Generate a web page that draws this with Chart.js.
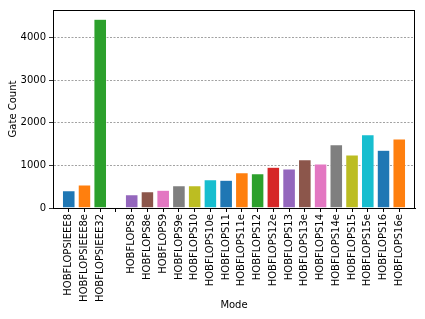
<!DOCTYPE html>
<html>
<head>
<meta charset="utf-8">
<script src="https://cdn.jsdelivr.net/npm/chart.js@4/dist/chart.umd.min.js"></script>
<style>
  html, body { margin: 0; padding: 0; background: #fff; }
  #wrap { width: 425px; height: 319px; }
</style>
</head>
<body>
<div id="wrap"><canvas id="gateChart" width="425" height="319"></canvas></div>
<script>
// modes (blank slot separates the IEEE group from the HOBFLOPS group)
const modes = ['HOBFLOPSIEEE8', 'HOBFLOPSIEEE8e', 'HOBFLOPSIEEE32', '',
    'HOBFLOPS8', 'HOBFLOPS8e', 'HOBFLOPS9', 'HOBFLOPS9e', 'HOBFLOPS10', 'HOBFLOPS10e',
    'HOBFLOPS11', 'HOBFLOPS11e', 'HOBFLOPS12', 'HOBFLOPS12e', 'HOBFLOPS13', 'HOBFLOPS13e',
    'HOBFLOPS14', 'HOBFLOPS14e', 'HOBFLOPS15', 'HOBFLOPS15e', 'HOBFLOPS16', 'HOBFLOPS16e'];
const gateCounts = [407, 540, 4431, null,
    313, 384, 415, 524, 522, 665,
    650, 830, 806, 955, 916, 1135,
    1033, 1487, 1245, 1722, 1354, 1620];
const yTicks = [0, 1000, 2000, 3000, 4000];
const palette = ['#1f77b4', '#ff7f0e', '#2ca02c', '#d62728', '#9467bd',
    '#8c564b', '#e377c2', '#7f7f7f', '#bcbd22', '#17becf'];

const font = { family: 'DejaVu Sans', size: 10 };

// black box around the plot area like matplotlib spines
const frame = {
    id: 'frame',
    afterDraw(chart) {
        const a = chart.chartArea;
        const c = chart.ctx;
        c.save();
        c.strokeStyle = '#000';
        c.lineWidth = 1;
        c.strokeRect(a.left + 0.5, a.top + 0.5, a.right - a.left - 1, a.bottom - a.top);
        c.restore();
    }
};

var ctx = document.getElementById('gateChart').getContext('2d');

var gateChart = new Chart(ctx, {
    type: 'bar',
    data: {
        datasets: [{
            data: gateCounts.map((v, i) => ({ x: i, y: v })),
            backgroundColor: gateCounts.map((v, i) => palette[i % palette.length]),
            borderColor: '#ffffff',
            borderWidth: 0.5,
            barPercentage: 0.8,
            categoryPercentage: 1.0,
        }]
    },
    options: {
        responsive: false,
        animation: false,
        layout: { padding: { top: 10, right: 10, left: 0, bottom: 0 } },
        plugins: {
            legend: { display: false },
            tooltip: { enabled: false },
        },
        scales: {
            x: {
                type: 'linear',
                offset: false,
                min: -1,
                max: 22,
                afterBuildTicks: (scale) => {
                    scale.ticks = modes.map((m, i) => ({ value: i }));
                },
                afterFit: (scale) => { scale.height = 111; },
                ticks: {
                    autoSkip: false,
                    maxRotation: 90,
                    minRotation: 90,
                    color: '#000',
                    font: font,
                    padding: 2,
                    callback: (v) => modes[v],
                },
                grid: {
                    offset: false,
                    drawOnChartArea: false,
                    drawTicks: true,
                    tickLength: 4,
                    tickColor: '#000',
                },
                border: { display: true, color: '#000' },
                title: {
                    display: true,
                    text: 'Mode',
                    color: '#000',
                    font: font,
                    padding: { top: 0, bottom: 8 },
                },
            },
            y: {
                min: 0,
                max: 4650,
                afterBuildTicks: (scale) => {
                    scale.ticks = yTicks.map((t) => ({ value: t }));
                },
                afterFit: (scale) => { scale.width = 53; },
                ticks: {
                    color: '#000',
                    font: font,
                    padding: 3,
                    callback: (v) => String(v),
                },
                grid: {
                    color: '#8a8a8a',
                    lineWidth: 0.8,
                    tickBorderDash: [],
                    tickLength: 4,
                    tickColor: '#000',
                },
                border: { display: true, color: '#000', dash: [2, 1.5] },
                title: {
                    display: true,
                    text: 'Gate Count',
                    color: '#000',
                    font: font,
                    padding: { top: 7, bottom: 0 },
                },
            },
        },
    },
    plugins: [frame],
});
</script>
</body>
</html>
